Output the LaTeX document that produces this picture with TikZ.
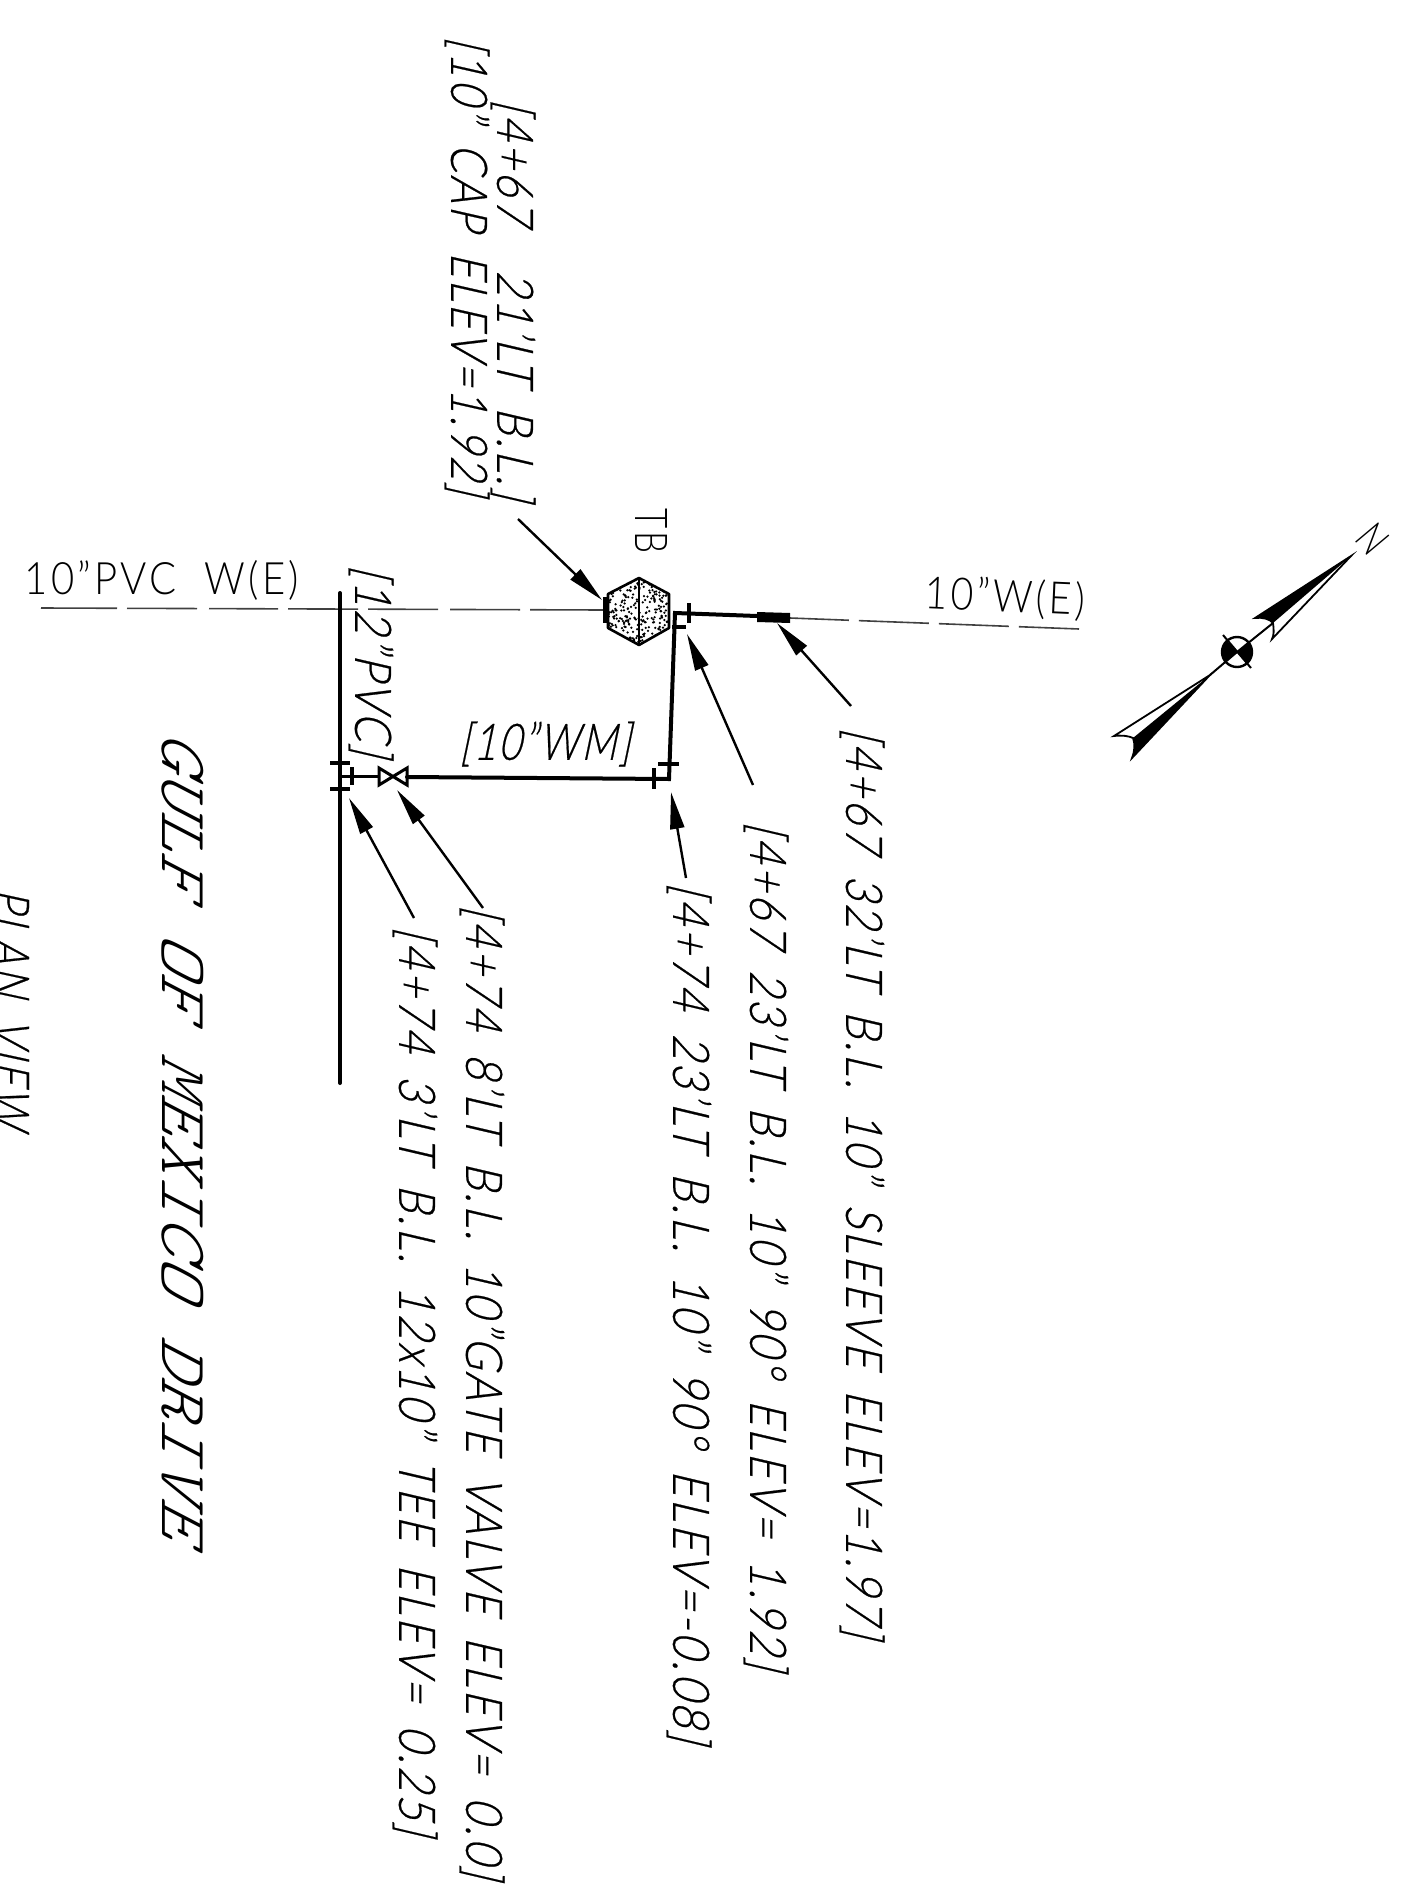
\documentclass[tikz,border=0pt]{standalone}
\usepackage{fontspec}
\usepackage{graphicx}
\setmainfont{Lato Light}[LetterSpace=8, WordSpace=2]
\newfontfamily\slantfont{Lato Light}[FakeSlant=0.27, FakeBold=0.5, LetterSpace=6, WordSpace=1.6]
\newfontfamily\streetfont{Latin Modern Mono Light}[FakeSlant=0.45]
\usetikzlibrary{calc, arrows.meta}
\newcommand{\lbltext}[2]{\resizebox*{#1pt}{45pt}{\fontsize{42}{42}\selectfont\slantfont #2}}
\newcommand{\wtext}[3]{\resizebox*{#1pt}{#2pt}{\fontsize{42}{42}\selectfont #3}}

\begin{document}
\begin{tikzpicture}[x=1pt, y=-1pt,
    pipe/.style={line width=4pt, line cap=round, line join=miter},
    fitting/.style={line width=3.5pt},
    thinline/.style={line width=1.6pt, black!75},
    leader/.style={line width=2.4pt, -{Triangle[length=37pt,width=14pt]}},
    lbl/.style={inner sep=0pt, rotate=-90}]
  \useasboundingbox (0,0) rectangle (1412,1894);
  \clip (0,0) rectangle (1412,1894);

  % existing lines
  \coordinate (wl) at (41,608);
  \coordinate (wr) at (604,610);
  \coordinate (slr) at (790,618);
  \coordinate (er) at (1079,629);
  \draw[thinline, dash pattern=on 76pt off 10pt on 70pt off 12pt on 69pt off 10pt on 70pt off 10pt on 70pt off 12pt on 70pt off 10pt on 100pt off 1pt] (wl) -- (wr);
  \draw[thinline, dash pattern=on 70pt off 10pt, dash phase=11pt] (slr) -- (er);

  % main and branch
  \coordinate (mt) at (340,593);
  \coordinate (mb) at (340,1083);
  \coordinate (tj) at (340,776);
  \coordinate (vl) at (379,776);
  \coordinate (vr) at (407,777);
  \coordinate (b1) at (669,779);
  \coordinate (b2) at (675,613);
  \coordinate (sl) at (757,616);
  \draw[pipe] (mt) -- (mb);
  \draw[line width=3pt] (tj) -- (vl);
  \draw[pipe] (vr) -- (b1) -- (b2) -- (sl);

  % tee
  \draw[fitting] (330,763) -- (350,763);
  \draw[fitting] (330,789) -- (350,789);
  \draw[fitting] (352,767) -- (352,785);
  % gate valve
  \draw[line width=3pt, line join=miter] (vl) ++(0,-8) -- ++(0,17) -- ++(28,-17) -- ++(0,17) -- ++(-28,-17) -- cycle;
  % bends
  \draw[fitting] (658,764) -- (679,764);
  \draw[fitting] (654,768) -- (654,789);
  \draw[fitting] (672,627) -- (686,627);
  \draw[fitting] (689,603) -- (689,623);
  % sleeve
  \fill (757,612) -- (790,613) -- (790,623) -- (757,622) -- cycle;

  % thrust block
  \begin{scope}
    \clip (639,578) -- (669,594) -- (669,628) -- (639,645) -- (608,628) -- (608,594) -- cycle;
    \pgfmathsetseed{41}
    \foreach \i in {1,...,300} {
      \fill ({608+61*rnd},{578+67*rnd}) circle (1.25);
    }
  \end{scope}
  \draw[line width=2.6pt, line join=round] (639,578) -- (669,594) -- (669,628) -- (639,645) -- (608,628) -- (608,594) -- cycle;
  \draw[line width=2.6pt] (639,578) -- (639,645);
  \draw[fitting] (605,597) -- (605,623);

  % leaders
  \coordinate (c1) at (518,519);  \coordinate (c2) at (602,600);
  \coordinate (s1) at (851,706);  \coordinate (s2) at (777,623);
  \coordinate (ea1) at (753,785); \coordinate (ea2) at (687,634);
  \coordinate (eb1) at (686,878); \coordinate (eb2) at (671,792);
  \coordinate (v1) at (483,908);  \coordinate (v2) at (397,790);
  \coordinate (t1) at (414,918);  \coordinate (t2) at (349,798);
  \draw[leader] (c1) -- (c2);
  \draw[leader] (s1) -- (s2);
  \draw[leader] (ea1) -- (ea2);
  \draw[leader] (eb1) -- (eb2);
  \draw[leader] (v1) -- (v2);
  \draw[leader] (t1) -- (t2);

  % labels
  \node[lbl] (capa) at (513,300) {\lbltext{401}{[4+67\ \ 21’LT B.L.]}};
  \node[lbl] (capb) at (467,266) {\lbltext{458}{[10” CAP ELEV=1.92]}};
  \node[lbl] (slv) at (862,1183) {\lbltext{910}{[4+67 32’LT B.L. 10” SLEEVE ELEV=1.97]}};
  \node[lbl] (elba) at (766,1246) {\lbltext{848}{[4+67 23’LT B.L. 10” 90° ELEV= 1.92]}};
  \node[lbl] (elbb) at (689,1313) {\lbltext{860}{[4+74 23’LT B.L. 10” 90° ELEV=-0.08]}};
  \node[lbl] (gv) at (482,1392) {\lbltext{973}{[4+74 8’LT B.L. 10”GATE VALVE ELEV= 0.0]}};
  \node[lbl] (teel) at (415,1381) {\lbltext{908}{[4+74 3’LT B.L. 12x10” TEE ELEV= 0.25]}};
  \node[lbl] (pvc) at (371,661) {\lbltext{191}{[12”PVC]}};
  \node[inner sep=0pt] (wm) at (545,744) {\lbltext{171}{[10”WM]}};
  \node[lbl] (tb) at (651,531) {\wtext{45}{32}{TB}};
  \node[inner sep=0pt] (pvcw) at (162,580) {\wtext{274}{40}{10”PVC\ W(E)}};
  \node[inner sep=0pt, rotate=-2.5] (we) at (1005,598) {\wtext{160}{40}{10”W(E)}};
  \node[lbl] (gulf) at (183,1133) {\resizebox*{808pt}{42pt}{\streetfont\fontsize{64}{64}\selectfont GULF OF MEXICO DRIVE}};
  \node[lbl] (plan) at (11,1008) {\resizebox*{240pt}{36pt}{\fontsize{42}{42}\selectfont\slantfont PLAN VIEW}};

  % north arrow
  \coordinate (na) at (1237,652);
  \coordinate (nt) at (1351,556);
  \coordinate (sb) at (1210,675);
  \fill (nt) -- (1255,618) .. controls (1262,617) and (1270,619) .. (1273,623) -- cycle;
  \draw[line width=1.8pt] (nt) -- (1255,618) .. controls (1262,617) and (1270,619) .. (1273,623) .. controls (1274,630) and (1274,635) .. (1272,639) -- cycle;
  \fill (sb) -- (1132,758) .. controls (1135,750) and (1135,744) .. (1133,738) -- cycle;
  \draw[line width=1.8pt] (sb) -- (1114,736) .. controls (1122,735) and (1129,736) .. (1133,738) .. controls (1135,744) and (1135,750) .. (1132,758) -- cycle;
  \draw[line width=2pt] (sb) -- (na) -- (1273,623);
  \fill (na) -- ++(-10,-11) arc[start angle=228, end angle=138, radius=15] -- cycle;
  \fill (na) -- ++(10,11) arc[start angle=48, end angle=-42, radius=15] -- cycle;
  \draw[line width=2.4pt] (na) circle (15);
  \draw[line width=2pt] (1223,635) -- (1251,668);
  \node[inner sep=0pt, rotate=-50] (north) at (1373,539) {\wtext{24}{30}{N}};
\end{tikzpicture}
\end{document}
